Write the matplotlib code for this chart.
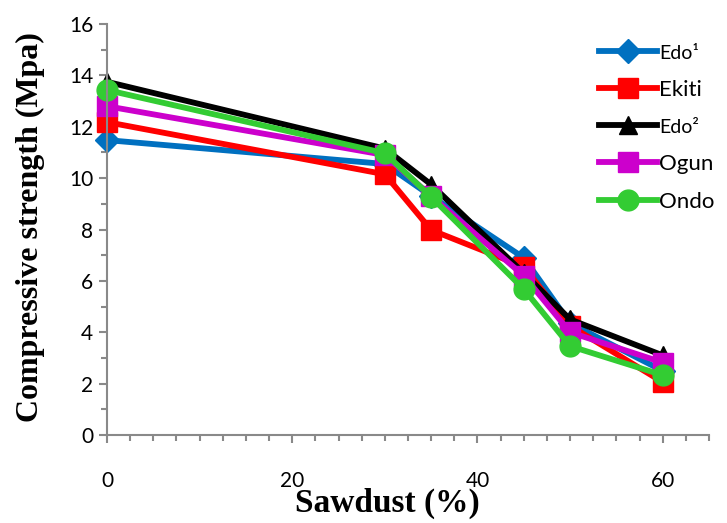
import matplotlib.pyplot as plt
from matplotlib.ticker import MultipleLocator

sawdust = [0, 30, 35, 45, 50, 60]
edo1 = [11.48, 10.55, 9.3, 6.9, 4.35, 2.5]
ekiti = [12.18, 10.15, 7.98, 6.55, 4.25, 2.06]
edo2 = [13.75, 11.15, 9.75, 6.3, 4.5, 3.1]
ogun = [12.8, 10.9, 9.3, 6.2, 4.0, 2.82]
ondo = [13.43, 10.97, 9.27, 5.68, 3.46, 2.33]

series = [
    ('Edo\u00b9', edo1, '#0070C0', 'D'),
    ('Ekiti', ekiti, '#FF0000', 's'),
    ('Edo\u00b2', edo2, '#000000', '^'),
    ('Ogun', ogun, '#CC00CC', 's'),
    ('Ondo', ondo, '#33CC33', 'o'),
]

fig = plt.figure(figsize=(7.27, 5.23), dpi=100)
ax = fig.add_axes([107 / 727, 1 - 435 / 523, 602 / 727, 411 / 523])

for name, vals, col, mk in series:
    ms = {'D': 12, 's': 14, '^': 13, 'o': 15}[mk]
    ax.plot(sawdust, vals, color=col, marker=mk, markersize=ms, linewidth=4.2,
            label=name, clip_on=False)

ax.set_xlim(0, 65)
ax.set_ylim(0, 16)
ax.xaxis.set_major_locator(MultipleLocator(20))
ax.xaxis.set_minor_locator(MultipleLocator(2.5))
ax.yaxis.set_major_locator(MultipleLocator(2))
ax.yaxis.set_minor_locator(MultipleLocator(1))

for s in ['top', 'right']:
    ax.spines[s].set_visible(False)
for s in ['left', 'bottom']:
    ax.spines[s].set_color('#898989')
    ax.spines[s].set_linewidth(1.5)
ax.tick_params(which='both', color='#898989', width=1.5, direction='out')
ax.tick_params(which='major', length=6, labelsize=15)
ax.tick_params(which='minor', length=4)
ax.tick_params(axis='x', which='major', pad=20)
ax.tick_params(axis='y', which='major', pad=4)
for lab in ax.get_xticklabels() + ax.get_yticklabels():
    lab.set_fontfamily('Lato')

ax.set_xlabel('Sawdust (%)', fontfamily='Liberation Serif', fontweight='bold',
              fontsize=24, va='top')
ax.xaxis.set_label_coords(0.465, -0.129, transform=ax.transAxes)
ax.set_ylabel('Compressive strength (Mpa)', fontfamily='Liberation Serif',
              fontweight='bold', fontsize=23, va='bottom')
ax.yaxis.set_label_coords(-0.103, 0.505, transform=ax.transAxes)

leg = ax.legend(loc='upper left', bbox_to_anchor=(0.795, 0.985), frameon=False,
                prop={'family': 'Lato', 'size': 16}, handlelength=2.6,
                labelspacing=0.8, handletextpad=0.1, borderaxespad=0.2)
for t in leg.get_texts():
    if t.get_text().startswith('Edo'):
        t.set_fontsize(14)

fig.savefig('out.png', dpi=100)
